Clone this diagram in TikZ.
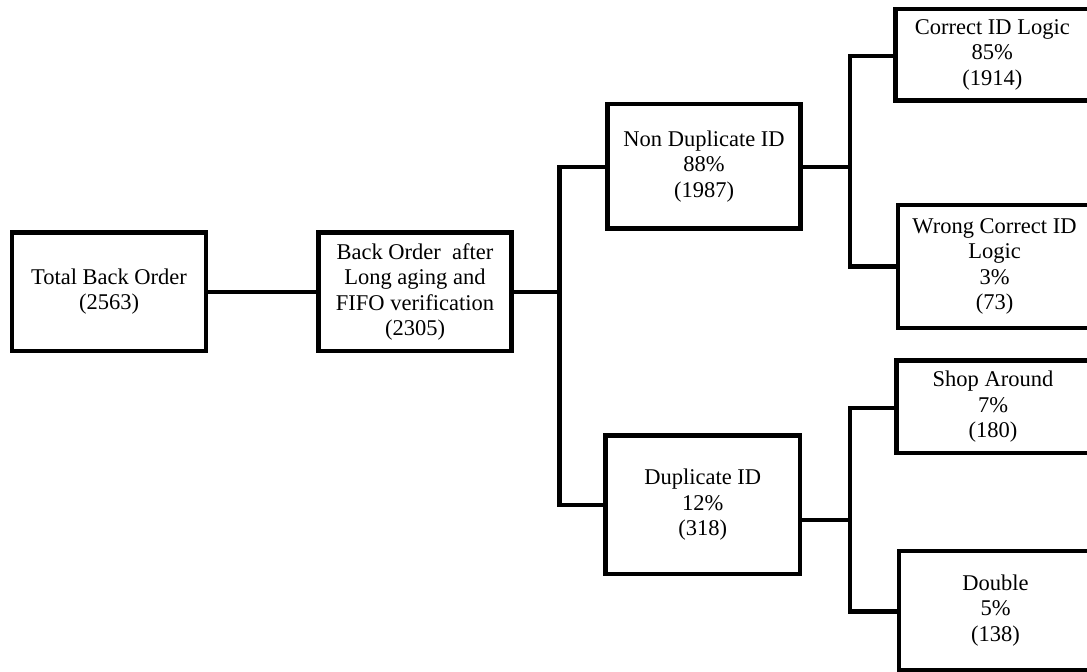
\documentclass[tikz,border=0pt]{standalone}
\usepackage{fontspec}
\setmainfont{Liberation Serif}
\begin{document}
\begin{tikzpicture}[x=1pt,y=-1pt,
  box/.style={draw, line width=4.8pt, line join=miter, inner sep=0pt, outer sep=0pt,
    align=center, anchor=north west, font=\fontsize{22.5}{25.5}\selectfont},
  conn/.style={line width=4.8pt, line join=miter}]
\clip (0,0) rectangle (1087,672);
\fill[white] (0,0) rectangle (1087,672);
% boxes
\node[box, minimum width=194pt, minimum height=118.5pt] (b1) at (12,232.5) {Total Back Order\\(2563)};
\node[box, minimum width=193pt, minimum height=118.5pt] (b2) at (318.5,232.5) {Back Order~ after\\Long aging and\\FIFO verification\\(2305)};
\node[box, minimum width=193pt, minimum height=124.5pt] (nd) at (607.5,104) {Non Duplicate ID\\88\%\\(1987)};
\node[box, minimum width=194.5pt, minimum height=138.5pt] (dup) at (605.5,435.5) {Duplicate ID\\12\%\\(318)};
\node[box, minimum width=193.5pt, minimum height=91.5pt] (c) at (895.5,9) {Correct ID Logic\\85\%\\(1914)};
\node[box, minimum width=193pt, minimum height=123pt] (w) at (898,205) {Wrong Correct ID\\Logic\\3\%\\(73)};
\node[box, minimum width=193pt, minimum height=92.3pt] (s) at (896.5,360.7) {Shop Around\\7\%\\(180)};
\node[box, minimum width=193pt, minimum height=119pt] (d) at (899,551) {Double\\5\%\\(138)};
% junction coordinates
\coordinate (m) at (559.5,292);
\coordinate (m1) at (559.5,167);
\coordinate (m2) at (559.5,505);
\coordinate (v1a) at (850,56);
\coordinate (v1m) at (850,167);
\coordinate (v1b) at (850,266.5);
\coordinate (v2a) at (850,408);
\coordinate (v2m) at (850,520);
\coordinate (v2b) at (850,611.5);
% connectors
\draw[conn] (b1.east |- m) -- (b2.west |- m);
\draw[conn] (b2.east |- m) -- (m);
\draw[conn] (nd.west |- m1) -- (m1) -- (m2) -- (dup.west |- m2);
\draw[conn] (nd.east |- v1m) -- (v1m);
\draw[conn] (c.west |- v1a) -- (v1a) -- (v1b) -- (w.west |- v1b);
\draw[conn] (dup.east |- v2m) -- (v2m);
\draw[conn] (s.west |- v2a) -- (v2a) -- (v2b) -- (d.west |- v2b);
\end{tikzpicture}
\end{document}
